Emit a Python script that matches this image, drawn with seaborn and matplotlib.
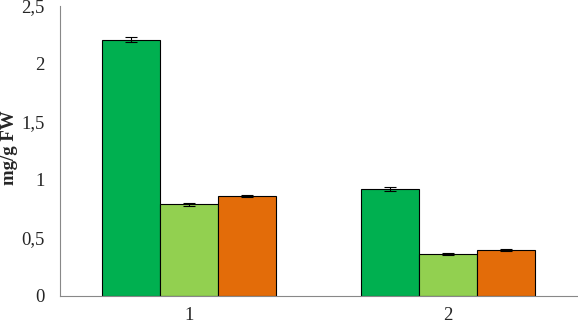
import matplotlib
matplotlib.use("Agg")
import matplotlib.pyplot as plt
import seaborn as sns
import pandas as pd
import numpy as np

categories = ["1", "2"]
series = ["A", "B", "C"]
values = {
    "A": [2.21, 0.92],
    "B": [0.79, 0.36],
    "C": [0.86, 0.40],
}
errors = {
    "A": [0.02, 0.018],
    "B": [0.01, 0.008],
    "C": [0.01, 0.008],
}
colors = ["#00B050", "#92D050", "#E36C09"]
yticks = [0, 0.5, 1, 1.5, 2, 2.5]
ytick_labels = ["0", "0,5", "1", "1,5", "2", "2,5"]

rows = []
for s in series:
    for c, v, e in zip(categories, values[s], errors[s]):
        rows.append({"cat": c, "series": s, "value": v, "err": e})
df = pd.DataFrame(rows)

sns.set_style("white")
plt.rcParams["font.family"] = ["Liberation Serif", "DejaVu Serif"]

fig = plt.figure(figsize=(5.78, 3.24), dpi=100)
ax = fig.add_axes([60/578, 1-296/324, 517/578, 290/324])

sns.barplot(data=df, x="cat", y="value", hue="series", order=categories,
            hue_order=series, palette=colors, width=0.673, gap=0,
            edgecolor="black", linewidth=0.8, errorbar=None, ax=ax, legend=False,
            saturation=1)

for bar_container, s in zip(ax.containers, series):
    for patch, e in zip(bar_container.patches, errors[s]):
        xc = patch.get_x() + patch.get_width() / 2
        h = patch.get_height()
        ax.errorbar(xc, h, yerr=e, fmt="none", ecolor="black", elinewidth=0.8,
                    capsize=4, capthick=0.8)

ax.set_ylim(0, 2.5)
ax.set_xlim(-0.5, 1.5)
ax.set_yticks(yticks)
ax.set_yticklabels(ytick_labels)
ax.set_xlabel("")
ax.set_ylabel("mg/g FW", fontsize=13.5, fontweight="bold", va="center", ha="center")
ax.yaxis.set_label_coords(-0.098, 0.51)
ax.tick_params(axis="y", direction="in", length=3, color="#999999", labelsize=13.5, pad=11)
ax.tick_params(axis="x", length=0, labelsize=13.5, pad=8)
for side in ["top", "right"]:
    ax.spines[side].set_visible(False)
for side in ["left", "bottom"]:
    ax.spines[side].set_color("#888888")
    ax.spines[side].set_linewidth(0.8)

fig.savefig("out.png", dpi=100)
